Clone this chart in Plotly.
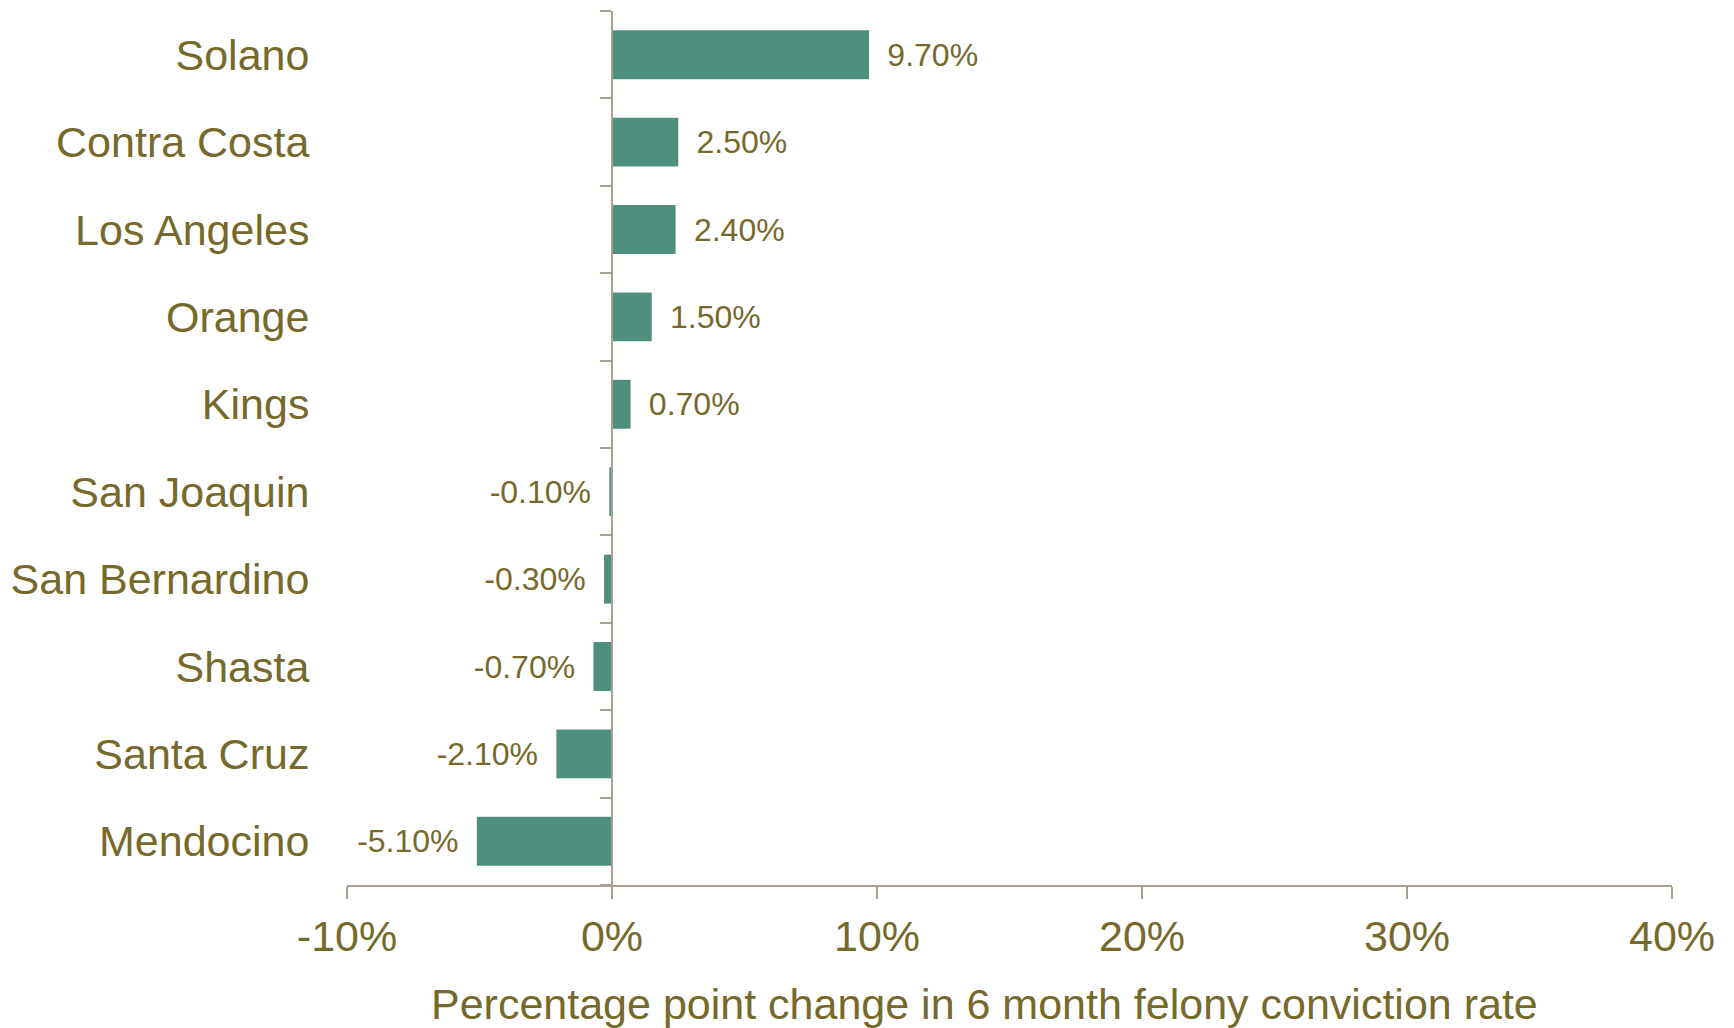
import numpy as np
import plotly.graph_objects as go

counties = ["Solano", "Contra Costa", "Los Angeles", "Orange", "Kings",
            "San Joaquin", "San Bernardino", "Shasta", "Santa Cruz", "Mendocino"]
changes = [9.7, 2.5, 2.4, 1.5, 0.7, -0.1, -0.3, -0.7, -2.1, -5.1]
x_ticks = [-10, 0, 10, 20, 30, 40]
x_tick_labels = ["-10%", "0%", "10%", "20%", "30%", "40%"]
x_title = "Percentage point change in 6 month felony conviction rate"

TEXT = "#76692A"
BAR = "#4F8F7E"
AXIS = "#A9A08F"
FONT = "Liberation Sans, Arial, sans-serif"
GAP = "\u00a0\u2009"

labels = [(GAP + f"{v:.2f}%") if v >= 0 else (f"{v:.2f}%" + GAP) for v in changes]

n = len(counties)
bounds = list(np.arange(n + 1) - 0.5)

fig = go.Figure()
fig.add_trace(go.Bar(
    x=changes, y=counties, orientation="h",
    marker=dict(color=BAR, line=dict(width=0)),
    text=labels, textposition="outside", cliponaxis=False,
    textfont=dict(size=32, color=TEXT, family=FONT),
    showlegend=False,
))
fig.add_trace(go.Scatter(x=[None], y=[None], yaxis="y2", showlegend=False, hoverinfo="skip"))

fig.update_layout(
    width=1734, height=1028,
    margin=dict(l=333, r=70, t=3, b=151),
    paper_bgcolor="white", plot_bgcolor="white",
    font=dict(family=FONT, color=TEXT),
    bargap=0.44,
    xaxis=dict(
        range=[x_ticks[0], x_ticks[-1]], tickvals=x_ticks, ticktext=x_tick_labels,
        showgrid=False, zeroline=False,
        showline=True, linecolor=AXIS, linewidth=2,
        ticks="outside", ticklen=12, tickwidth=1.5, tickcolor=AXIS,
        tickfont=dict(size=43, color=TEXT, family=FONT),
    ),
    yaxis=dict(
        type="category", categoryorder="array", categoryarray=counties,
        range=[n - 0.5, -0.5],
        showgrid=False, zeroline=False, showline=False,
        ticks="outside", ticklen=28, tickcolor="rgba(0,0,0,0)",
        tickfont=dict(size=43, color=TEXT, family=FONT),
    ),
    yaxis2=dict(
        overlaying="y", anchor="free", position=(0 - x_ticks[0]) / (x_ticks[-1] - x_ticks[0]),
        side="left", range=[n - 0.5, -0.5],
        tickvals=bounds, showticklabels=False,
        ticks="outside", ticklen=11, tickwidth=1.5, tickcolor=AXIS,
        showline=True, linecolor=AXIS, linewidth=1.5,
        showgrid=False, zeroline=False,
    ),
    annotations=[dict(
        text=x_title, xref="paper", yref="paper", x=0.481, y=-0.136,
        xanchor="center", yanchor="middle", showarrow=False,
        font=dict(size=43, color=TEXT, family=FONT),
    )],
)

fig.write_html("out.html")
